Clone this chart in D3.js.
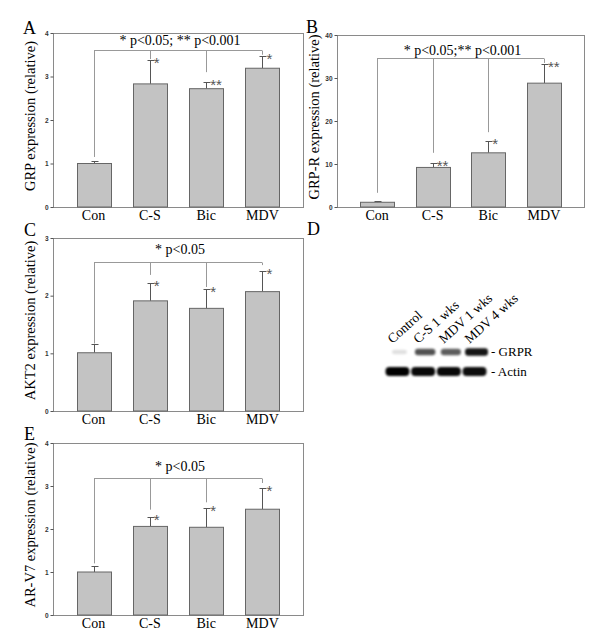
<!DOCTYPE html>
<html>
<head>
<meta charset="utf-8">
<script src="https://cdn.jsdelivr.net/npm/d3@7"></script>
<style>
  body { margin: 0; background: #fff; }
  svg { display: block; }
  .serif { font-family: "Liberation Serif", "Times New Roman", serif; }
</style>
</head>
<body>
<svg id="fig" width="600" height="637"></svg>
<script>
// bar chart data
var categories = ["Con", "C-S", "Bic", "MDV"];

var grpValues = [1.0, 2.83, 2.72, 3.19];
var grpErrors = [0.05, 0.55, 0.15, 0.27];
var grpStars = ["", "*", "**", "*"];

var grprValues = [1.1, 9.2, 12.6, 28.8];
var grprErrors = [0.2, 1.0, 2.7, 4.5];
var grprStars = ["", "**", "*", "**"];

var akt2Values = [1.01, 1.91, 1.78, 2.07];
var akt2Errors = [0.16, 0.31, 0.33, 0.36];
var akt2Stars = ["", "*", "*", "*"];

var arv7Values = [1.0, 2.06, 2.04, 2.46];
var arv7Errors = [0.14, 0.22, 0.45, 0.49];
var arv7Stars = ["", "*", "*", "*"];

// significance brackets (data units): bracket level + where each drop ends
var grpBracket = [3.6, 1.15, 3.4, 3.1, 3.5];
var grprBracket = [34.7, 3.3, 12.6, 17.4, 33.5];
var akt2Bracket = [2.59, 1.17, 2.36, 2.15, 2.53];
var arv7Bracket = [3.19, 1.2, 2.45, 2.62, 3.07];

var grpTicks = [0, 1, 2, 3, 4];
var grprTicks = [0, 10, 20, 30, 40];
var akt2Ticks = [0, 1, 2, 3];
var arv7Ticks = [0, 1, 2, 3, 4];

// western blot
var lanes = ["Control", "C-S 1 wks", "MDV 1 wks", "MDV 4 wks"];
var grprBands = [0.12, 0.68, 0.64, 0.92];
var actinBands = [1.0, 0.97, 0.97, 0.95];

var svg = d3.select("#fig");

var panels = [
    { letter: "A", lx: 23, ly: 34, box: [53, 303, 33, 207], max: 4, ticks: grpTicks,
      values: grpValues, errors: grpErrors, stars: grpStars, bracket: grpBracket,
      note: "* p<0.05; ** p<0.001", noteGap: 6, ylabel: "GRP expression (relative)" },
    { letter: "B", lx: 306, ly: 33, box: [337, 584, 35, 207], max: 40, ticks: grprTicks,
      values: grprValues, errors: grprErrors, stars: grprStars, bracket: grprBracket,
      note: "* p<0.05;** p<0.001", noteGap: 4, ylabel: "GRP-R expression (relative)" },
    { letter: "C", lx: 24, ly: 236, box: [53, 303, 238, 411], max: 3, ticks: akt2Ticks,
      values: akt2Values, errors: akt2Errors, stars: akt2Stars, bracket: akt2Bracket,
      note: "* p<0.05", noteGap: 9, ylabel: "AKT2 expression (relative)" },
    { letter: "E", lx: 24, ly: 440, box: [53, 303, 443, 615], max: 4, ticks: arv7Ticks,
      values: arv7Values, errors: arv7Errors, stars: arv7Stars, bracket: arv7Bracket,
      note: "* p<0.05", noteGap: 8, ylabel: "AR-V7 expression (relative)" }
];

function drawPanel(p) {
    var x0 = p.box[0], x1 = p.box[1], y0 = p.box[2], y1 = p.box[3];
    var x = d3.scalePoint().domain(categories).range([x0, x1]).padding(0.72);
    var y = d3.scaleLinear().domain([0, p.max]).range([y1, y0]);
    var bw = 34;
    var g = svg.append("g");

    g.append("text").attr("class", "serif")
        .attr("x", p.lx).attr("y", p.ly)
        .style("font-size", "18px")
        .text(p.letter);

    // frame
    g.append("rect")
        .attr("x", x0 + 0.5).attr("y", y0 + 0.5)
        .attr("width", x1 - x0).attr("height", y1 - y0)
        .attr("fill", "none").attr("stroke", "#8a8a8a");

    var ax = g.append("g")
        .attr("transform", "translate(" + (x0 + 0.5) + ",0)")
        .call(d3.axisLeft(y).tickValues(p.ticks).tickFormat(d3.format("d"))
            .tickSize(3).tickPadding(2));
    ax.select(".domain").remove();
    ax.selectAll("line").attr("stroke", "#555");
    ax.selectAll("text")
        .style("font-family", "Arial, 'Liberation Sans', sans-serif")
        .style("font-size", "6.5px").style("font-weight", "bold").attr("fill", "#333");

    // bars
    var rows = categories.map(function (c, i) {
        return { c: c, v: p.values[i], e: p.errors[i], s: p.stars[i], drop: p.bracket[i + 1] };
    });

    g.selectAll(".err").data(rows).enter().append("path")
        .attr("d", function (d) {
            var cx = Math.round(x(d.c)) + 0.5;
            var top = Math.round(y(d.v + d.e)) + 0.5;
            return "M" + cx + "," + y(d.v) + "V" + top + "M" + (cx - 3) + "," + top + "H" + (cx + 4);
        })
        .attr("stroke", "#555").attr("fill", "none");

    g.selectAll(".bar").data(rows).enter().append("rect")
        .attr("x", function (d) { return Math.round(x(d.c) - bw / 2) + 0.5; })
        .attr("y", function (d) { return y(d.v); })
        .attr("width", bw)
        .attr("height", function (d) { return y1 - y(d.v); })
        .attr("fill", "#c3c3c3").attr("stroke", "#666");

    g.selectAll(".star").data(rows).enter().append("text")
        .attr("x", function (d) { return x(d.c) + 4; })
        .attr("y", function (d) { return y(d.v + d.e) + 8; })
        .style("font-family", "Arial, 'Liberation Sans', sans-serif")
        .style("font-size", "15px").attr("fill", "#555")
        .text(function (d) { return d.s; });

    // significance bracket
    var by = Math.round(y(p.bracket[0])) + 0.5;
    var first = x(categories[0]), last = x(categories[categories.length - 1]);
    g.append("path")
        .attr("d", "M" + Math.round(first) + "," + by + "H" + Math.round(last))
        .attr("stroke", "#999").attr("fill", "none");
    g.selectAll(".drop").data(rows).enter().append("path")
        .attr("d", function (d) {
            var cx = Math.round(x(d.c)) + 0.5;
            return "M" + cx + "," + by + "V" + y(d.drop);
        })
        .attr("stroke", "#999").attr("fill", "none");
    g.append("text").attr("class", "serif")
        .attr("x", (first + last) / 2 + 2).attr("y", by - p.noteGap)
        .attr("text-anchor", "middle")
        .style("font-size", "14px")
        .text(p.note);

    // category labels
    g.selectAll(".cat").data(categories).enter().append("text").attr("class", "serif")
        .attr("x", function (d) { return x(d); })
        .attr("y", y1 + 13)
        .attr("text-anchor", "middle")
        .style("font-size", "14px")
        .text(function (d) { return d; });

    // y label
    g.append("text").attr("class", "serif")
        .attr("transform", "translate(" + (x0 - 18) + "," + ((y0 + y1) / 2 - 4) + ") rotate(-90)")
        .attr("text-anchor", "middle")
        .style("font-size", "14.5px")
        .text(p.ylabel);
}

panels.forEach(drawPanel);

// panel D: western blot
svg.append("text").attr("class", "serif")
    .attr("x", 307).attr("y", 235)
    .style("font-size", "18px")
    .text("D");

var defs = svg.append("defs");
defs.append("filter").attr("id", "blur")
    .attr("x", "-20%").attr("y", "-60%").attr("width", "140%").attr("height", "220%")
    .append("feGaussianBlur").attr("stdDeviation", 1.1);

var lx = d3.scaleBand().domain(lanes).range([385, 487]).paddingInner(0.03);

var blot = svg.append("g").attr("filter", "url(#blur)");
blot.selectAll(".grpr").data(lanes).enter().append("rect")
    .attr("x", function (d, i) { return lx(d) + lx.bandwidth() * (0.45 - 0.4 * grprBands[i]) / 2 + 2; })
    .attr("width", function (d, i) { return lx.bandwidth() * (0.55 + 0.4 * grprBands[i]); })
    .attr("y", function (d, i) { return 352 - (2 + 2 * grprBands[i]); })
    .attr("height", function (d, i) { return 4 + 4 * grprBands[i]; })
    .attr("rx", 3)
    .attr("fill", "#000")
    .attr("opacity", function (d, i) { return grprBands[i]; });

blot.selectAll(".actin").data(lanes).enter().append("rect")
    .attr("x", function (d) { return lx(d) + 0.5; })
    .attr("width", lx.bandwidth() - 1)
    .attr("y", 367)
    .attr("height", 9)
    .attr("rx", 4)
    .attr("fill", "#000")
    .attr("opacity", function (d, i) { return actinBands[i]; });

svg.selectAll(".lane").data(lanes).enter().append("text").attr("class", "serif")
    .attr("transform", function (d) {
        return "translate(" + (lx(d) + lx.bandwidth() / 2 - 5) + ",344) rotate(-42)";
    })
    .style("font-size", "13.5px")
    .text(function (d) { return d; });

svg.append("text").attr("class", "serif")
    .attr("x", 491).attr("y", 356)
    .style("font-size", "13px")
    .text("- GRPR");
svg.append("text").attr("class", "serif")
    .attr("x", 491).attr("y", 376)
    .style("font-size", "13px")
    .text("- Actin");
</script>
</body>
</html>
